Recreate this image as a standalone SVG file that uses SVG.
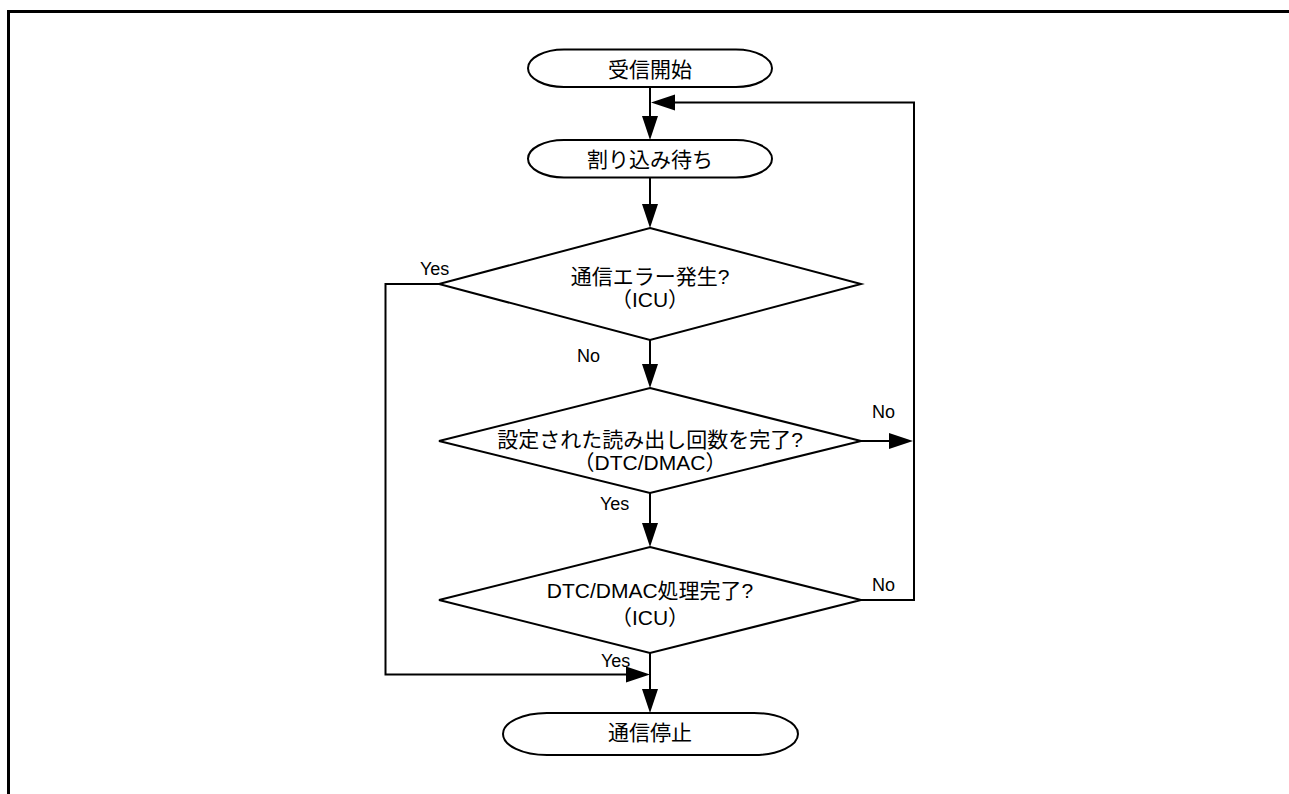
<svg xmlns="http://www.w3.org/2000/svg" width="1289" height="794" viewBox="0 0 1289 794">
<style>
.bg{fill:#fff}
.frame{fill:none;stroke:#000;stroke-width:3}
.term{fill:#fff;stroke:#000;stroke-width:2}
.dia{fill:#fff;stroke:#000;stroke-width:2}
.ln{fill:none;stroke:#000;stroke-width:2}
.ah{fill:#000}
.t{font-family:"Liberation Sans","Noto Sans CJK JP",Arial,sans-serif;font-size:21px;fill:#000;text-anchor:middle}
.lb{font-family:"Liberation Sans",Arial,sans-serif;font-size:18px;fill:#000}
</style>
<rect class="bg" x="0" y="0" width="1289" height="794"/>
<path class="frame" d="M8.5,794 V11.5 H1289"/>
<g id="connectors">
  <line class="ln" x1="650" y1="87" x2="650" y2="118"/>
  <polygon class="ah" points="642,116 658,116 650,140"/>
  <line class="ln" x1="650" y1="177" x2="650" y2="206"/>
  <polygon class="ah" points="642,204 658,204 650,228"/>
  <line class="ln" x1="650" y1="340" x2="650" y2="366"/>
  <polygon class="ah" points="642,364 658,364 650,388"/>
  <line class="ln" x1="650" y1="493" x2="650" y2="525"/>
  <polygon class="ah" points="642,523 658,523 650,547"/>
  <line class="ln" x1="650" y1="653" x2="650" y2="691"/>
  <polygon class="ah" points="642,689 658,689 650,713"/>
  <polyline class="ln" points="439,284 385.5,284 385.5,674.5 628,674.5"/>
  <polygon class="ah" points="626,666.5 626,682.5 650,674.5"/>
  <polyline class="ln" points="861,600 914,600 914,102.5 672,102.5"/>
  <polygon class="ah" points="675,94.5 675,110.5 651,102.5"/>
  <line class="ln" x1="861" y1="441" x2="892" y2="441"/>
  <polygon class="ah" points="889,433 889,449 913,441"/>
  <text class="lb" x="420" y="275">Yes</text>
  <text class="lb" x="577" y="362">No</text>
  <text class="lb" x="872" y="418">No</text>
  <text class="lb" x="600" y="510">Yes</text>
  <text class="lb" x="872" y="591">No</text>
  <text class="lb" x="601" y="666.5">Yes</text>
</g>
<g id="start">
  <rect class="term" x="528" y="49.5" width="244" height="37.5" rx="36" ry="18.75"/>
  <text class="t" x="650" y="77">受信開始</text>
</g>
<g id="wait">
  <rect class="term" x="528" y="140" width="244" height="37.5" rx="36" ry="18.75"/>
  <text class="t" x="650" y="167">割り込み待ち</text>
</g>
<g id="dec1">
  <polygon class="dia" points="650,228 861,284 650,340 439,284"/>
  <text class="t" x="650" y="284">通信エラー発生?</text>
  <text class="t" x="650" y="306.5">（ICU）</text>
</g>
<g id="dec2">
  <polygon class="dia" points="650,388 861,441 650,493 439,441"/>
  <text class="t" x="650" y="446.5">設定された読み出し回数を完了?</text>
  <text class="t" x="650" y="470">（DTC/DMAC）</text>
</g>
<g id="dec3">
  <polygon class="dia" points="650,547 861,600 650,653 439,600"/>
  <text class="t" x="650" y="598">DTC/DMAC処理完了?</text>
  <text class="t" x="650" y="625">（ICU）</text>
</g>
<g id="end">
  <rect class="term" x="503" y="713" width="295" height="42" rx="44" ry="21"/>
  <text class="t" x="650" y="740">通信停止</text>
</g>
</svg>
